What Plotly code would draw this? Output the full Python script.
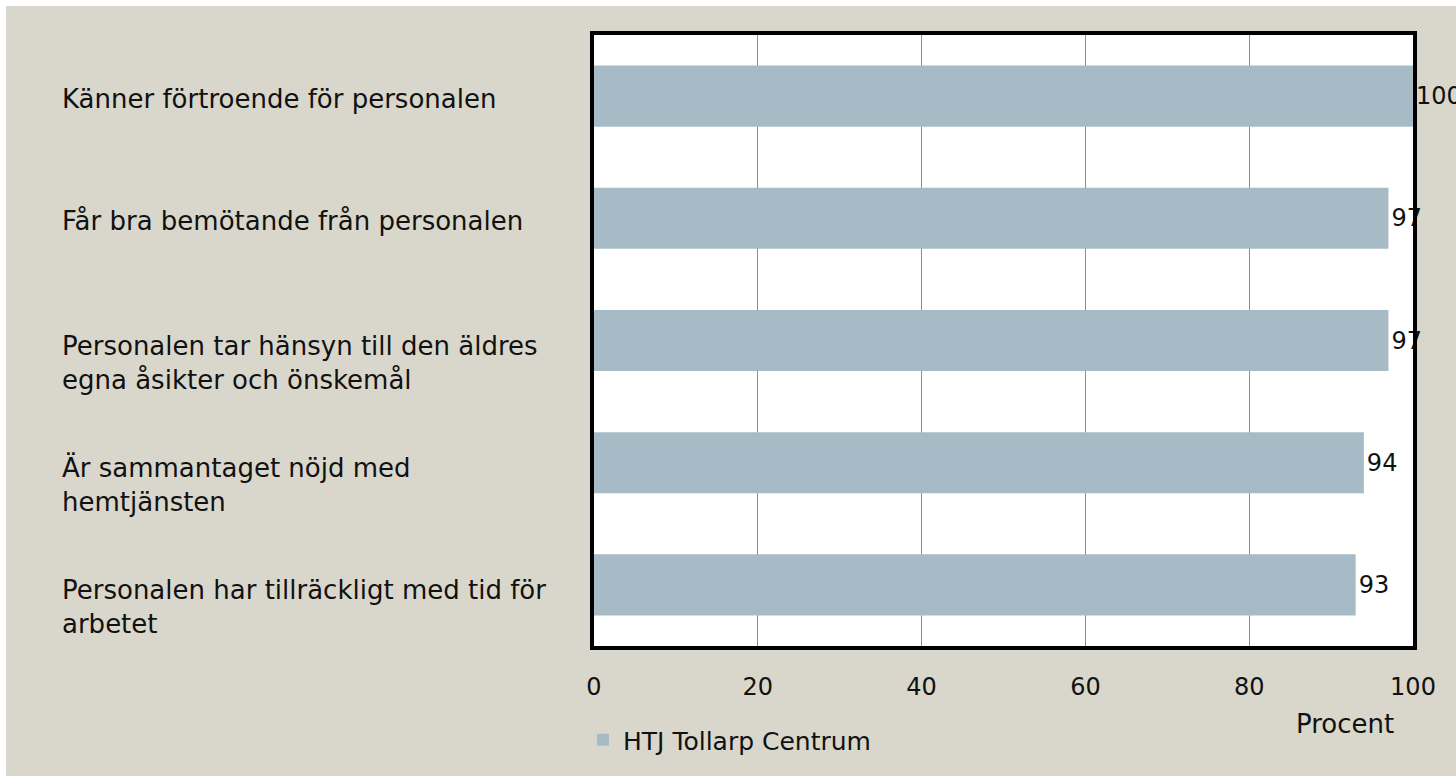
import plotly.graph_objects as go

categories = [
    "Känner förtroende för personalen",
    "Får bra bemötande från personalen",
    "Personalen tar hänsyn till den äldres<br>egna åsikter och önskemål",
    "Är sammantaget nöjd med<br>hemtjänsten",
    "Personalen har tillräckligt med tid för<br>arbetet",
]
values = [100, 97, 97, 94, 93]
series_name = "HTJ Tollarp Centrum"
x_ticks = [0, 20, 40, 60, 80, 100]
x_title = "Procent"

W, H = 1456, 776
L, R, T, B = 594, 1413, 35, 646
FONT = "DejaVu Sans"
FS = 26
FS_TICK = 24
BEIGE = "#D9D7CC"
BAR = "#A7BBC7"
TXT = "#111111"

fig = go.Figure()
fig.add_trace(go.Bar(
    x=values, y=list(range(len(categories))), orientation="h",
    name=series_name, marker=dict(color=BAR, line=dict(width=0)),
    text=[str(v) for v in values], textposition="outside",
    textfont=dict(family=FONT, size=FS_TICK, color=TXT),
    cliponaxis=False, showlegend=True,
))

def px_x(p):
    return (p - L) / (R - L)

def px_y(p):
    return (B - p) / (B - T)

# white strips at the top and left edges of the picture
shapes = [
    dict(type="rect", xref="paper", yref="paper", layer="below",
         x0=px_x(-5), x1=px_x(W + 5), y0=px_y(6), y1=px_y(-5),
         fillcolor="white", line=dict(width=0)),
    dict(type="rect", xref="paper", yref="paper", layer="below",
         x0=px_x(-5), x1=px_x(6), y0=px_y(H + 5), y1=px_y(-5),
         fillcolor="white", line=dict(width=0)),
]

annotations = []
for i, c in enumerate(categories):
    nlines = c.count("<br>") + 1
    annotations.append(dict(
        x=px_x(60), xref="paper", y=i, yref="y", text=c, showarrow=False,
        xanchor="left", yanchor="middle", align="left",
        yshift=-22 if nlines > 1 else -3,
        font=dict(family=FONT, size=FS, color=TXT),
    ))
annotations.append(dict(
    x=px_x(1345), xref="paper", y=px_y(724), yref="paper", text=x_title,
    showarrow=False, xanchor="center", yanchor="middle",
    font=dict(family=FONT, size=FS, color=TXT),
))

fig.update_layout(
    width=W, height=H,
    margin=dict(l=L, r=W - R, t=T, b=H - B),
    paper_bgcolor=BEIGE, plot_bgcolor="white",
    bargap=0.5,
    font=dict(family=FONT, size=FS, color=TXT),
    shapes=shapes, annotations=annotations,
    legend=dict(x=px_x(583), y=px_y(740), xanchor="left", yanchor="middle",
                orientation="h", bgcolor="rgba(0,0,0,0)",
                font=dict(family=FONT, size=25, color=TXT),
                itemwidth=30),
    xaxis=dict(range=[0, 100], tickvals=x_ticks, showgrid=True,
               gridcolor="#8C8C8C", gridwidth=1, zeroline=False,
               showline=True, linecolor="black", linewidth=4, mirror=True,
               ticks="outside", ticklen=16, tickcolor="rgba(0,0,0,0)",
               tickfont=dict(family=FONT, size=FS_TICK, color=TXT)),
    yaxis=dict(range=[len(categories) - 0.5, -0.5], showticklabels=False,
               showgrid=False, zeroline=False,
               showline=True, linecolor="black", linewidth=4, mirror=True),
)

fig.write_html("out.html", config={"displayModeBar": False},
               post_script="document.body.style.margin='0px';")
